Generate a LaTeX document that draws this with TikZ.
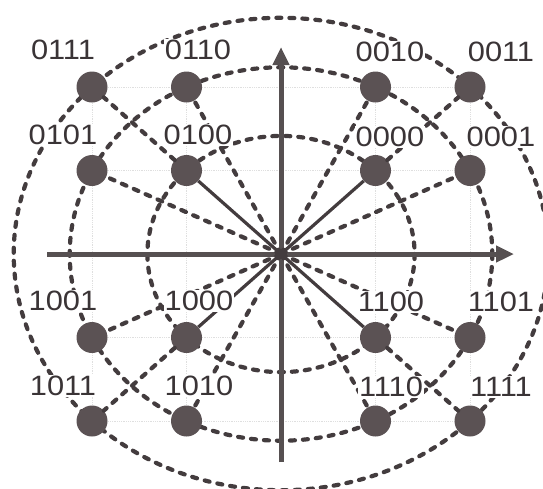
\documentclass[tikz,border=0pt]{standalone}
\usepackage{fontspec}
\setmainfont{Liberation Sans}
\usetikzlibrary{arrows.meta}
\definecolor{ink}{HTML}{433C3E}
\definecolor{dotc}{HTML}{5B5254}
\definecolor{txt}{HTML}{3A3436}
\newcommand{\lab}[1]{\scalebox{1.1}[1]{#1}}
\tikzset{
  dashline/.style={draw=ink, line width=4.2pt, line cap=round, dash pattern=on 5pt off 8pt},
  solidline/.style={draw=ink, line width=3.2pt},
  axisline/.style={draw=ink!90!white, line width=5pt, -{Triangle[length=18pt,width=16pt]}},
  gridline/.style={draw=gray!25, line width=0.8pt, densely dotted},
  dotnode/.style={circle, fill=dotc, minimum size=31pt, inner sep=0pt},
  labnode/.style={fill=white, inner sep=1pt, text=txt, font=\fontsize{28}{30}\selectfont}
}
\begin{document}
\begin{tikzpicture}[x=1pt,y=-1pt]
\useasboundingbox (0,0) rectangle (543,488);
\clip (0,0) rectangle (543,488);
\coordinate (O) at (281,254);
% faint grid
\foreach \yy in {87,170.5,337.5,421} \draw[gridline] (92,\yy) -- (470,\yy);
\foreach \xx in {92,186.5,375.5,470} \draw[gridline] (\xx,87) -- (\xx,421);
% dashed circles
\draw[dashline] (O) ellipse [x radius=133.6, y radius=118.1];
\draw[dashline] (O) ellipse [x radius=211.3, y radius=186.7];
\draw[dashline] (O) ellipse [x radius=267.3, y radius=236.2];
% axes
\coordinate (xl) at (47,254);
\coordinate (xr) at (514,254);
\coordinate (yb) at (281,462);
\coordinate (yt) at (281,47);
\draw[axisline] (xl) -- (xr);
\draw[axisline] (yb) -- (yt);
% dots
\node[dotnode] (d0111) at (92,87) {};
\node[dotnode] (d0110) at (186.5,87) {};
\node[dotnode] (d0010) at (375.5,87) {};
\node[dotnode] (d0011) at (470,87) {};
\node[dotnode] (d0101) at (92,170.5) {};
\node[dotnode] (d0100) at (186.5,170.5) {};
\node[dotnode] (d0000) at (375.5,170.5) {};
\node[dotnode] (d0001) at (470,170.5) {};
\node[dotnode] (d1001) at (92,337.5) {};
\node[dotnode] (d1000) at (186.5,337.5) {};
\node[dotnode] (d1100) at (375.5,337.5) {};
\node[dotnode] (d1101) at (470,337.5) {};
\node[dotnode] (d1011) at (92,421) {};
\node[dotnode] (d1010) at (186.5,421) {};
\node[dotnode] (d1110) at (375.5,421) {};
\node[dotnode] (d1111) at (470,421) {};
% radial connectors
\foreach \a in {d0100,d0000,d1000,d1100} \draw[solidline] (O) -- (\a);
\draw[dashline] (d0100) -- (d0111);
\draw[dashline] (d0000) -- (d0011);
\draw[dashline] (d1000) -- (d1011);
\draw[dashline] (d1100) -- (d1111);
\foreach \a in {d0110,d0101,d0010,d0001,d1001,d1010,d1101,d1110} \draw[dashline] (O) -- (\a);
% labels
\node[labnode] (l0111) at (63,50) {\lab{0111}};
\node[labnode] (l0110) at (198,50) {\lab{0110}};
\node[labnode] (l0010) at (390,52) {\lab{0010}};
\node[labnode] (l0011) at (501,52) {\lab{0011}};
\node[labnode] (l0101) at (63,135) {\lab{0101}};
\node[labnode] (l0100) at (198,135) {\lab{0100}};
\node[labnode] (l0000) at (390,137) {\lab{0000}};
\node[labnode] (l0001) at (501,137) {\lab{0001}};
\node[labnode] (l1001) at (63,301) {\lab{1001}};
\node[labnode] (l1000) at (199,301) {\lab{1000}};
\node[labnode] (l1100) at (391,302) {\lab{1100}};
\node[labnode] (l1101) at (501,302) {\lab{1101}};
\node[labnode] (l1011) at (63,386) {\lab{1011}};
\node[labnode] (l1010) at (199,386) {\lab{1010}};
\node[labnode] (l1110) at (391,387) {\lab{1110}};
\node[labnode] (l1111) at (501,387) {\lab{1111}};
\end{tikzpicture}
\end{document}
